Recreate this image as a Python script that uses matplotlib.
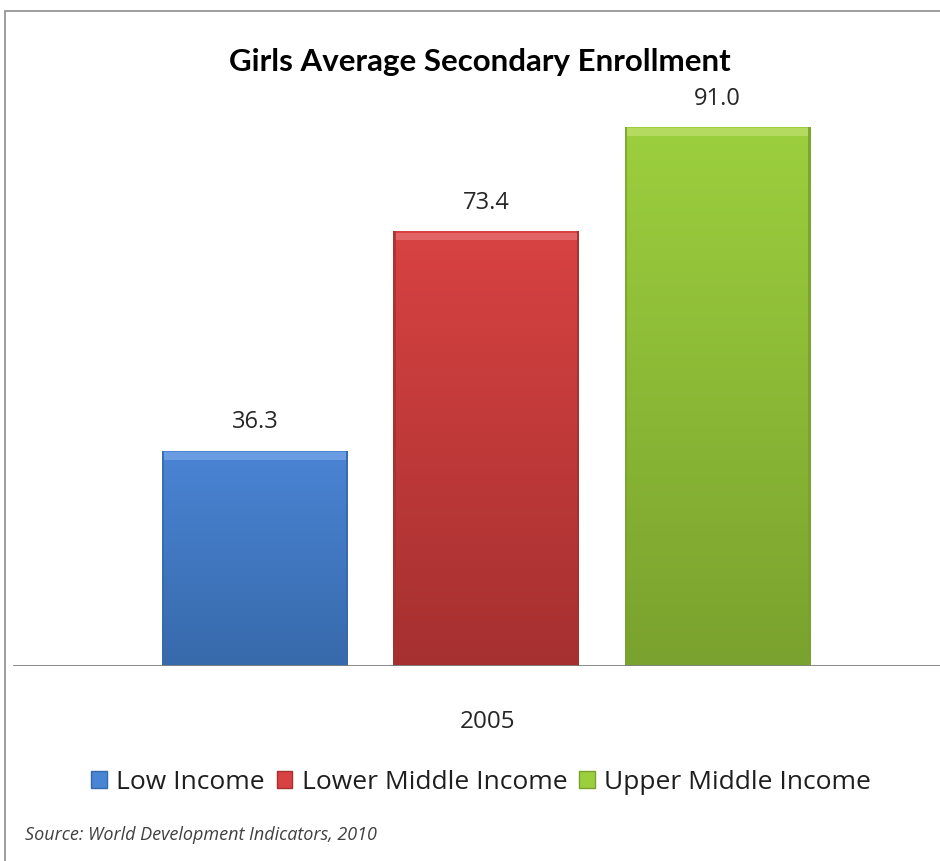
import numpy as np
import matplotlib.pyplot as plt
from matplotlib.patches import Patch, Rectangle
from matplotlib.colors import LinearSegmentedColormap

# data
categories = ["Low Income", "Lower Middle Income", "Upper Middle Income"]
values = [36.3, 73.4, 91.0]
year_label = "2005"
colors = ["#4a84d4", "#d84242", "#9ccf3e"]
dark = ["#376aab", "#a63030", "#7aa22e"]
light = ["#78a8e6", "#e87474", "#bfe06e"]

TITLE = "Girls Average Secondary Enrollment"
SOURCE = "Source: World Development Indicators, 2010"


def main():
    W, H = 940, 862
    fig = plt.figure(figsize=(W / 100, H / 100), dpi=100)

    # outer frame of the chart area
    fig.patches.append(Rectangle((5 / W, -0.1), 1.2, 1.1 - 12 / H,
                                 transform=fig.transFigure, fill=False,
                                 edgecolor="#8c8c8c", linewidth=1.2))

    ax = fig.add_axes([13 / W, 195 / H, 927 / W, (667 - 75) / H])
    x = np.arange(len(values))
    bars = ax.bar(x, values, width=0.803, color=colors, zorder=2)

    # vertical gradient + bevel like the office chart
    for b, c, d, l in zip(bars, colors, dark, light):
        x0, y0 = b.get_x(), b.get_y()
        w, h = b.get_width(), b.get_height()
        cmap = LinearSegmentedColormap.from_list("g", [d, c])
        grad = np.linspace(0, 1, 200).reshape(-1, 1)
        im = ax.imshow(grad, cmap=cmap, aspect="auto", zorder=3, origin="lower",
                       extent=[x0, x0 + w, y0, y0 + h], interpolation="bicubic")
        im.set_clip_path(b)
        # top bevel highlight
        ax.add_patch(Rectangle((x0 + w * 0.01, y0 + h - 1.5), w * 0.98, 1.3,
                               color=l, alpha=0.7, zorder=4, linewidth=0))
        # darker sides and bottom
        ax.add_patch(Rectangle((x0, y0), w * 0.012, h, color=d, alpha=0.8,
                               zorder=4, linewidth=0))
        ax.add_patch(Rectangle((x0 + w * 0.988, y0), w * 0.012, h, color=d,
                               alpha=0.9, zorder=4, linewidth=0))
        ax.add_patch(Rectangle((x0, y0), w, 0.5, color=d, alpha=0.9,
                               zorder=4, linewidth=0))

    for xi, v in zip(x, values):
        ax.text(xi, v + 3.0, "{:.1f}".format(v), ha="center", va="bottom",
                fontsize=17, color="#262626", family="Open Sans")

    ax.set_xlim(-1.045, 2.96)
    ax.set_ylim(0, 100)
    ax.axis("off")
    ax.axhline(0, color="#808080", linewidth=1.3, zorder=5)

    fig.text(480 / W, 1 - 62 / H, TITLE, ha="center", va="center",
             fontsize=22.5, fontweight="bold", family="Lato")
    fig.text(487 / W, 1 - 722 / H, year_label, ha="center", va="center",
             fontsize=17.5, color="#262626", family="Open Sans")

    handles = [Patch(facecolor=c, edgecolor=d) for c, d in zip(colors, dark)]
    fig.legend(handles, categories, loc="center", ncol=3,
               bbox_to_anchor=(481 / W, 1 - 783 / H), frameon=False,
               prop={"family": "Open Sans", "size": 19},
               handlelength=0.6, handleheight=0.6, handletextpad=0.35,
               columnspacing=0.45, labelcolor="#1e1e1e")

    fig.text(25 / W, 1 - 835 / H, SOURCE, ha="left", va="center",
             fontsize=13, style="italic", color="#404040", family="Open Sans")

    fig.savefig("out.png", dpi=100)


if __name__ == "__main__":
    main()
